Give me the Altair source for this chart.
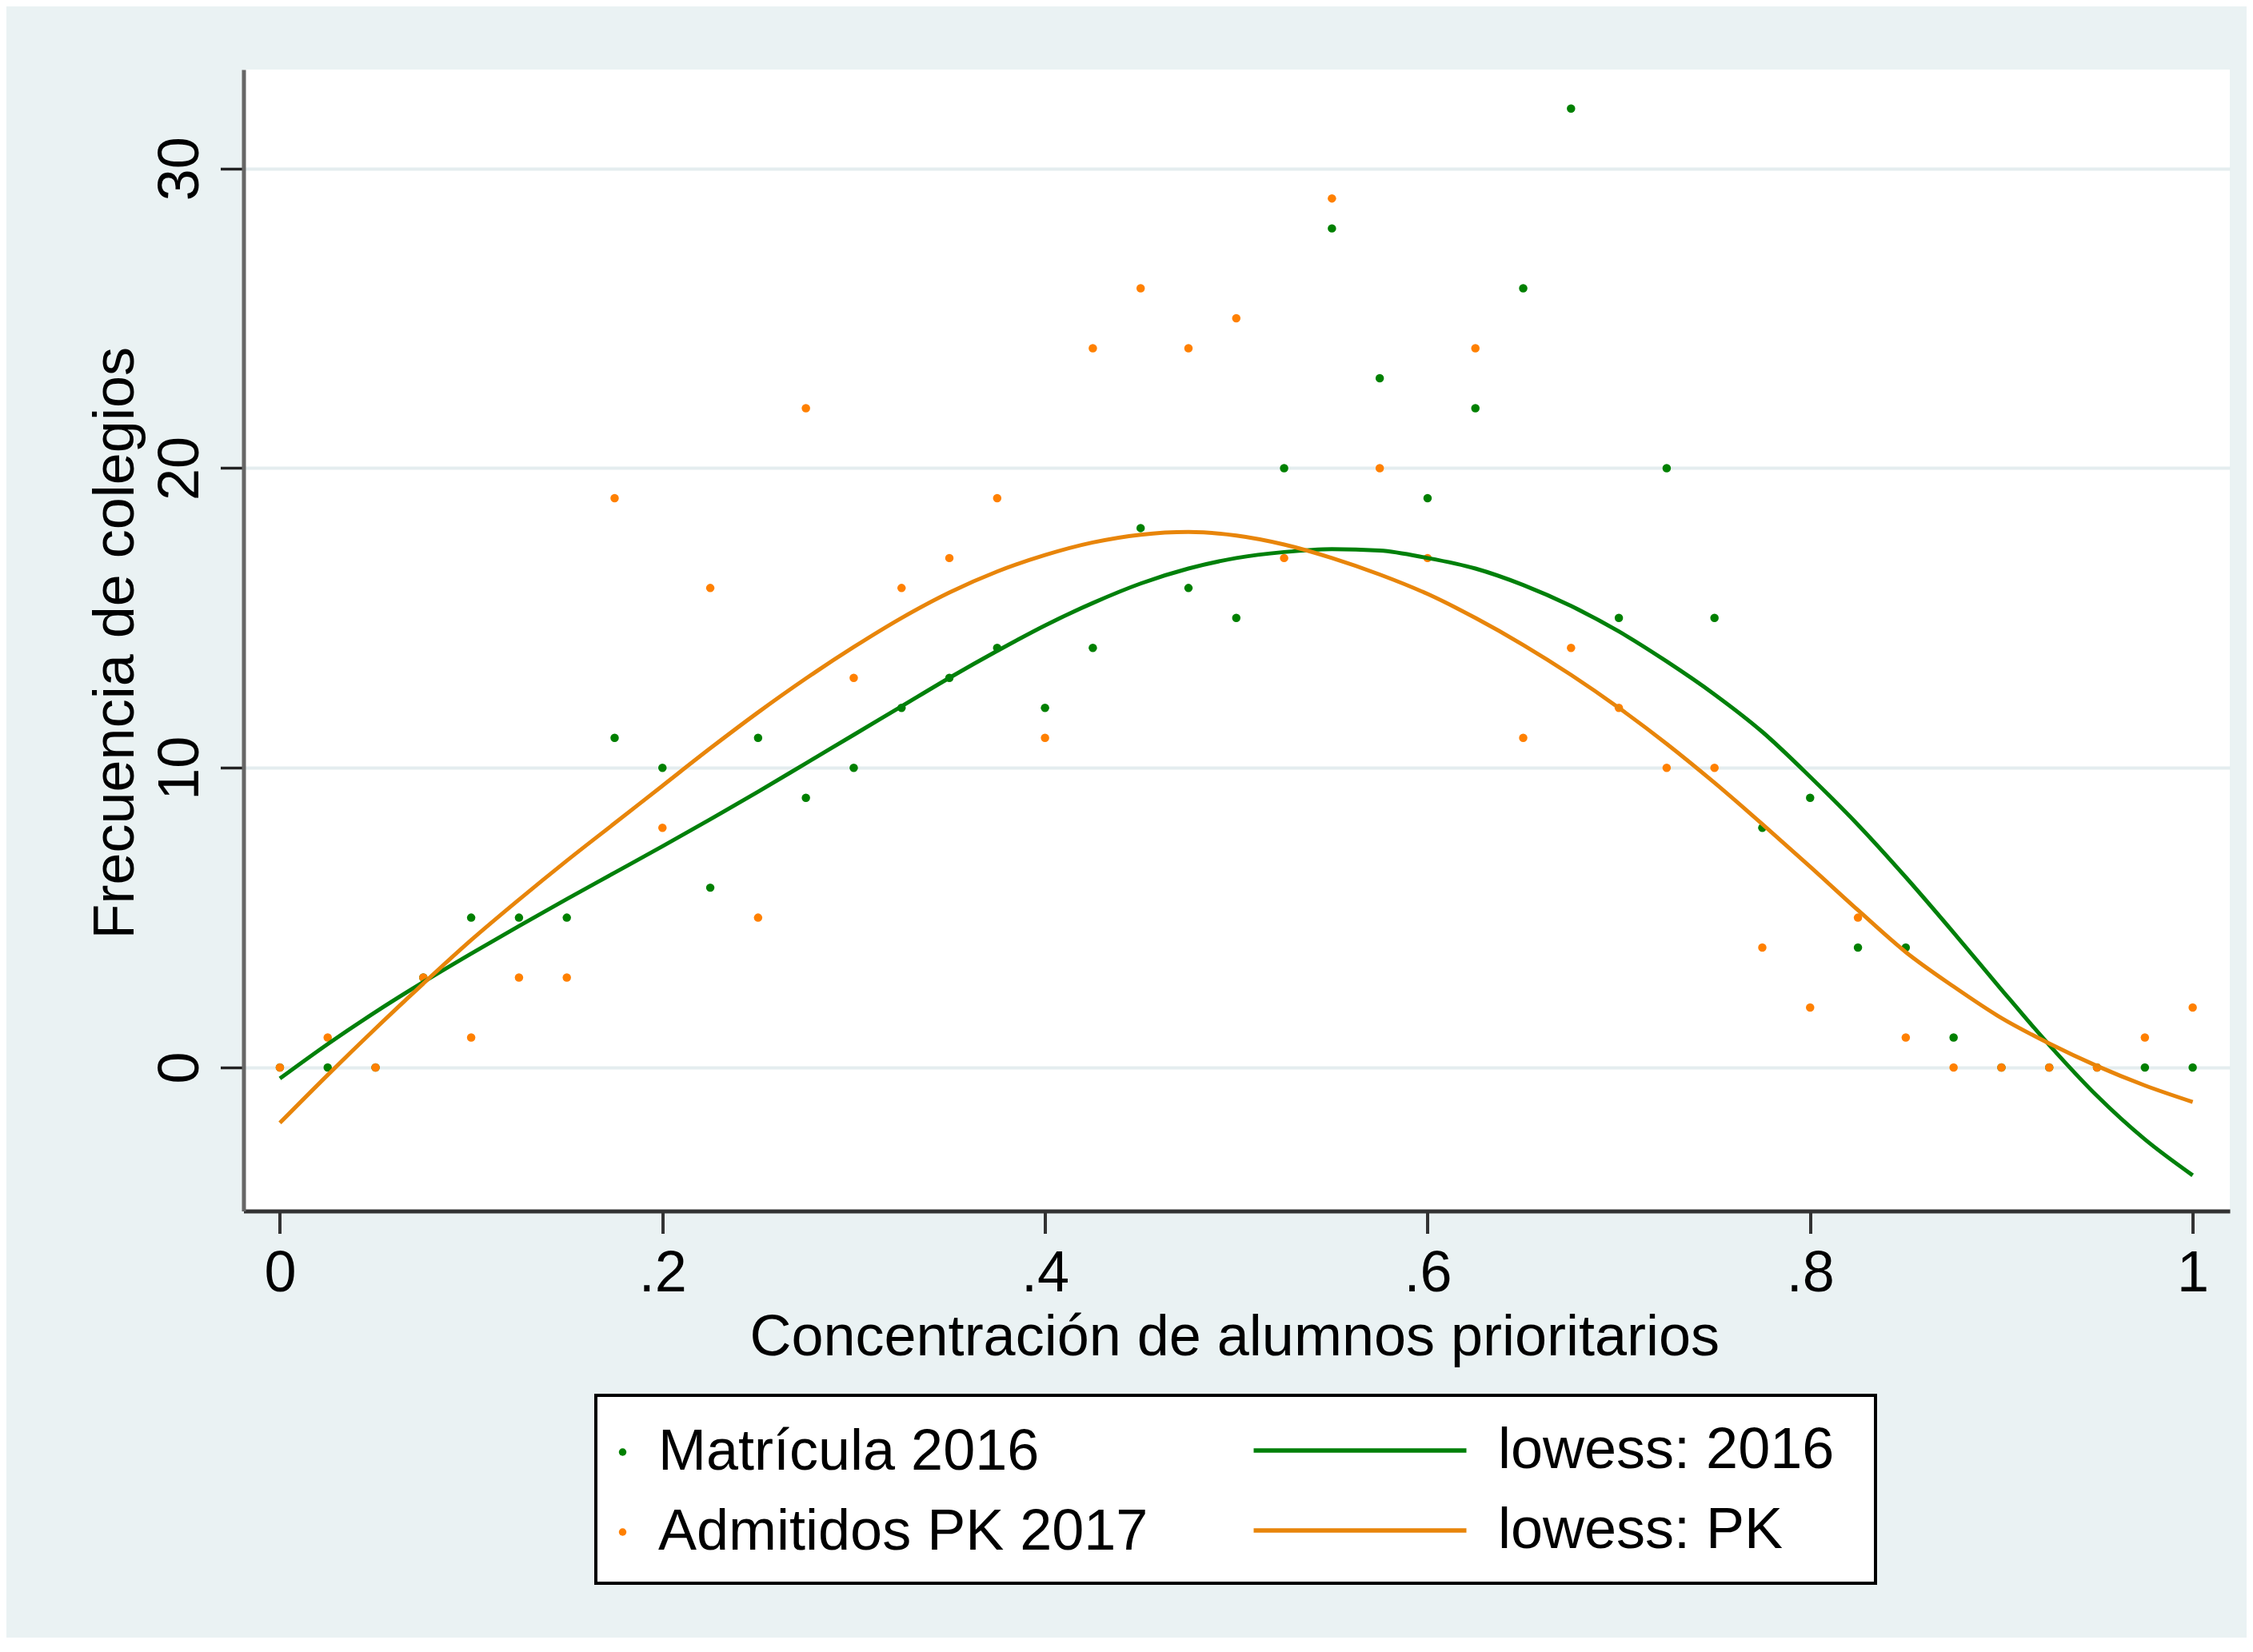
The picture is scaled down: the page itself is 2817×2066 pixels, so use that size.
import altair as alt
import pandas as pd

# ---------------- data ----------------
x_vals = [0.0, 0.025, 0.05, 0.075, 0.1, 0.125, 0.15, 0.175, 0.2, 0.225,
          0.25, 0.275, 0.3, 0.325, 0.35, 0.375, 0.4, 0.425, 0.45, 0.475,
          0.5, 0.525, 0.55, 0.575, 0.6, 0.625, 0.65, 0.675, 0.7, 0.725,
          0.75, 0.775, 0.8, 0.825, 0.85, 0.875, 0.9, 0.925, 0.95, 0.975, 1.0]

matricula_2016 = [0, 0, 0, 3, 5, 5, 5, 11, 10, 6,
                  11, 9, 10, 12, 13, 14, 12, 14, 18, 16,
                  15, 20, 28, 23, 19, 22, 26, 32, 15, 20,
                  15, 8, 9, 4, 4, 1, 0, 0, 0, 0, 0]

admitidos_pk_2017 = [0, 1, 0, 3, 1, 3, 3, 19, 8, 16,
                     5, 22, 13, 16, 17, 19, 11, 24, 26, 24,
                     25, 17, 29, 20, 17, 24, 11, 14, 12, 10,
                     10, 4, 2, 5, 1, 0, 0, 0, 0, 1, 2]

lowess_2016 = [-0.37, 0.78, 1.85, 2.85, 3.8, 4.72, 5.62, 6.5, 7.38, 8.28,
               9.2, 10.15, 11.1, 12.05, 13.0, 13.9, 14.75, 15.5, 16.15, 16.65,
               17.0, 17.2, 17.3, 17.25, 17.0, 16.65, 16.1, 15.4, 14.55, 13.55,
               12.45, 11.2, 9.7, 8.1, 6.35, 4.5, 2.6, 0.75, -0.95, -2.4, -3.6]

lowess_pk = [-1.85, -0.25, 1.3, 2.8, 4.25, 5.6, 6.9, 8.15, 9.4, 10.65,
             11.85, 12.98, 14.03, 15.0, 15.85, 16.55, 17.1, 17.52, 17.78, 17.87,
             17.75, 17.45, 17.0, 16.45, 15.8, 15.0, 14.1, 13.1, 12.0, 10.8,
             9.5, 8.12, 6.7, 5.25, 3.85, 2.7, 1.65, 0.8, 0.05, -0.6, -1.15]

series_points = ["Matrícula 2016", "Admitidos PK 2017"]
series_lines = ["lowess: 2016", "lowess: PK"]

x_tick_values = [0, 0.2, 0.4, 0.6, 0.8, 1]
x_tick_labels = ["0", ".2", ".4", ".6", ".8", "1"]
y_tick_values = [0, 10, 20, 30]
y_tick_labels = ["0", "10", "20", "30"]

x_title = "Concentración de alumnos prioritarios"
y_title = "Frecuencia de colegios"

# ---------------- styling ----------------
FONT = "Liberation Sans"
BG = "#EAF2F3"
GREEN = "#008000"
ORANGE_PT = "#FF8000"
GREEN_LINE = "#00800A"
ORANGE_LINE = "#E8850A"

points_df = pd.DataFrame({
    "x": x_vals + x_vals,
    "y": matricula_2016 + admitidos_pk_2017,
    "serie": [series_points[0]] * len(x_vals) + [series_points[1]] * len(x_vals),
})
lines_df = pd.DataFrame({
    "x": x_vals + x_vals,
    "y": lowess_2016 + lowess_pk,
    "serie": [series_lines[0]] * len(x_vals) + [series_lines[1]] * len(x_vals),
})


def label_expr(values, labels):
    expr = "''"
    for v, l in reversed(list(zip(values, labels))):
        expr = f"(abs(datum.value - {v}) < 1e-9 ? '{l}' : {expr})"
    return expr


W = 2483.5
H = 1427.5

x_scale = alt.Scale(domain=[-0.019, 1.0194], nice=False, zero=False)
y_scale = alt.Scale(domain=[-4.79, 33.30], nice=False, zero=False)

x_axis = alt.Axis(
    values=x_tick_values, labelExpr=label_expr(x_tick_values, x_tick_labels),
    title=x_title, grid=False,
    domainColor="#333333", domainWidth=5,
    tickColor="#333333", tickWidth=4, tickSize=28,
    labelFont=FONT, labelFontSize=72, labelColor="black", labelPadding=15,
    labelFlush=False, labelOverlap=False,
    titleFont=FONT, titleFontSize=72, titleFontWeight="normal", titleColor="black",
    titleBaseline="alphabetic", titleAlign="center", titleX=W / 2 - 3, titleY=179.5,
)
y_axis = alt.Axis(
    values=y_tick_values, labelExpr=label_expr(y_tick_values, y_tick_labels),
    title=y_title, grid=True, gridColor="#E4EDEF", gridWidth=4,
    domainColor="#666666", domainWidth=5,
    tickColor="#222222", tickWidth=3.5, tickSize=29,
    labelFont=FONT, labelFontSize=72, labelColor="black",
    labelAngle=270, labelAlign="center", labelBaseline="alphabetic", labelPadding=28.5,
    labelFlush=False, labelOverlap=False,
    titleFont=FONT, titleFontSize=72, titleFontWeight="normal", titleColor="black",
    titleAngle=270, titleBaseline="alphabetic", titleAlign="center",
    titleX=-138.5, titleY=H / 2 + 3,
)

legend_common = dict(
    orient="none", direction="vertical", padding=0, rowPadding=28,
    labelFont=FONT, labelFontSize=72, labelColor="black", labelLimit=2000,
    labelBaseline="middle", clipHeight=72,
)

frame = alt.Chart(pd.DataFrame({"k": [0]})).mark_rect(
    fill="white", stroke="black", strokeWidth=4
).encode(
    x=alt.value(440.5), x2=alt.value(2040.5),
    y=alt.value(1658), y2=alt.value(1893),
)

points = alt.Chart(points_df).mark_point(
    filled=True, size=110, opacity=1, shape="circle"
).encode(
    x=alt.X("x:Q", scale=x_scale, axis=x_axis),
    y=alt.Y("y:Q", scale=y_scale, axis=y_axis),
    color=alt.Color(
        "serie:N",
        scale=alt.Scale(domain=series_points, range=[GREEN, ORANGE_PT]),
        legend=alt.Legend(legendX=438, legendY=1693, symbolSize=90,
                          symbolType="circle", labelOffset=8.5,
                          title=None, **legend_common),
    ),
)

lines = alt.Chart(lines_df).mark_line(strokeWidth=5, interpolate="monotone").encode(
    x=alt.X("x:Q", scale=x_scale, axis=x_axis),
    y=alt.Y("y:Q", scale=y_scale, axis=y_axis),
    color=alt.Color(
        "serie:N",
        scale=alt.Scale(domain=series_lines, range=[GREEN_LINE, ORANGE_LINE]),
        legend=alt.Legend(legendX=1260, legendY=1691, symbolSize=70756,
                          symbolType="stroke", symbolStrokeWidth=5.5,
                          labelOffset=36.5, title=None, **legend_common),
    ),
)

chart = alt.layer(frame, points, lines).resolve_scale(
    color="independent"
).resolve_legend(
    color="independent"
).properties(
    width=W, height=H,
    autosize=alt.AutoSizeParams(type="none"),
    padding={"left": 296.5, "top": 79, "right": 21, "bottom": 533},
    background=BG,
).configure_view(
    fill="white", strokeWidth=0
)

chart.save("out.html", embed_options={"renderer": "svg", "actions": False})
